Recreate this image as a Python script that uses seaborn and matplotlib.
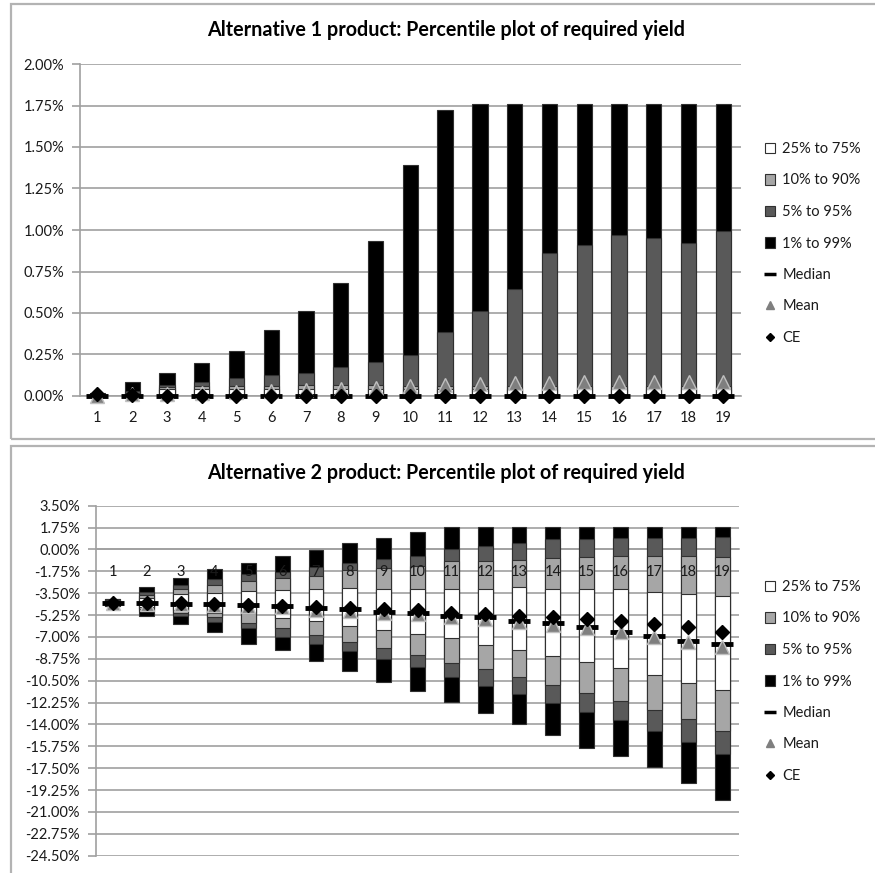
import numpy as np
import matplotlib
matplotlib.use("Agg")
import matplotlib.pyplot as plt
import seaborn as sns
from matplotlib.patches import Patch, Rectangle
from matplotlib.lines import Line2D
from matplotlib.ticker import FuncFormatter, MultipleLocator

periods = [str(i) for i in range(1, 20)]

# Alternative 1 product, required yield in %
a1_p1 = [0, 0, 0, 0, 0, 0, 0, 0, 0, 0, 0, 0, 0, 0, 0, 0, 0, 0, 0]
a1_p5 = [0, 0, 0, 0, 0, 0, 0, 0, 0, 0, 0, 0, 0, 0, 0, 0, 0, 0, 0]
a1_p10 = [0, 0, 0, 0, 0, 0, 0, 0, 0, 0, 0, 0, 0, 0, 0, 0, 0, 0, 0]
a1_p25 = [0, 0, 0, 0, 0, 0, 0, 0, 0, 0, 0, 0, 0, 0, 0, 0, 0, 0, 0]
a1_p75 = [0.004, 0.01, 0.04, 0.045, 0.045, 0.045, 0.045, 0.045, 0.045, 0.04, 0.04,
          0.04, 0.04, 0.04, 0.04, 0.04, 0.04, 0.04, 0.04]
a1_p90 = [0.008, 0.02, 0.055, 0.06, 0.06, 0.06, 0.065, 0.065, 0.065, 0.06, 0.06,
          0.06, 0.06, 0.06, 0.06, 0.06, 0.06, 0.06, 0.06]
a1_p95 = [0.012, 0.03, 0.068, 0.086, 0.11, 0.125, 0.14, 0.175, 0.203, 0.245, 0.384,
          0.513, 0.646, 0.859, 0.907, 0.969, 0.953, 0.923, 0.994]
a1_p99 = [0.02, 0.084, 0.139, 0.201, 0.274, 0.40, 0.511, 0.678, 0.935, 1.394, 1.72,
          1.758, 1.758, 1.758, 1.758, 1.758, 1.758, 1.758, 1.758]
a1_median = [0, 0, 0, 0, 0, 0, 0, 0, 0, 0, 0, 0, 0, 0, 0, 0, 0, 0, 0]
a1_mean = [0.0, 0.01, 0.015, 0.02, 0.025, 0.03, 0.035, 0.045, 0.05, 0.06, 0.065,
           0.07, 0.08, 0.08, 0.085, 0.085, 0.085, 0.085, 0.085]
a1_ce = [0.015, 0.008, 0, 0, 0, 0, 0, 0, 0, 0, 0, 0, 0, 0, 0, 0, 0, 0, 0]

# Alternative 2 product, required yield in %
a2_p1 = [-4.55, -5.33, -5.97, -6.58, -7.57, -8.05, -8.90, -9.73, -10.58, -11.30, -12.24,
         -13.06, -14.00, -14.85, -15.86, -16.53, -17.44, -18.72, -20.05]
a2_p5 = [-4.50, -4.90, -5.33, -5.78, -6.31, -6.98, -7.57, -8.10, -8.80, -9.44, -10.24,
         -10.93, -11.57, -12.26, -13.01, -13.65, -14.50, -15.44, -16.37]
a2_p10 = [-4.45, -4.80, -5.06, -5.38, -5.86, -6.31, -6.87, -7.41, -7.92, -8.45, -9.12,
          -9.60, -10.24, -10.88, -11.46, -12.10, -12.85, -13.60, -14.50]
a2_p25 = [-4.35, -4.63, -4.85, -5.06, -5.11, -5.52, -5.70, -6.13, -6.45, -6.77, -7.12,
          -7.65, -8.05, -8.53, -8.98, -9.52, -10.05, -10.66, -11.25]
a2_p75 = [-4.15, -3.92, -3.57, -3.52, -3.33, -3.25, -3.19, -3.11, -3.14, -3.14, -3.14,
          -3.14, -3.03, -3.14, -3.14, -3.19, -3.38, -3.57, -3.73]
a2_p90 = [-4.05, -3.65, -3.17, -2.85, -2.50, -2.31, -2.13, -1.65, -1.51, -1.33, -0.93,
          -0.93, -0.85, -0.71, -0.63, -0.53, -0.53, -0.53, -0.63]
a2_p95 = [-4.00, -3.38, -2.85, -2.39, -1.97, -1.78, -1.38, -1.06, -0.77, -0.53, 0.0,
          0.27, 0.485, 0.80, 0.80, 0.885, 0.885, 0.885, 1.02]
a2_p99 = [-3.95, -2.98, -2.26, -1.59, -1.11, -0.50, -0.05, 0.485, 0.885, 1.42, 1.80,
          1.80, 1.80, 1.80, 1.80, 1.80, 1.80, 1.80, 1.80]
a2_median = [-4.26, -4.30, -4.35, -4.40, -4.45, -4.55, -4.66, -4.80, -4.98, -5.11, -5.30,
             -5.44, -5.70, -5.91, -6.23, -6.58, -6.90, -7.30, -7.60]
a2_mean = [-4.30, -4.35, -4.40, -4.45, -4.50, -4.60, -4.85, -4.90, -5.06, -5.17, -5.38,
           -5.60, -5.78, -6.05, -6.31, -6.58, -6.98, -7.38, -7.78]
a2_ce = [-4.26, -4.26, -4.31, -4.39, -4.45, -4.53, -4.58, -4.66, -4.77, -4.85, -5.06,
         -5.17, -5.30, -5.44, -5.60, -5.73, -6.00, -6.18, -6.58]

band_colors = ['#000000', '#595959', '#a6a6a6', '#ffffff']
legend_labels = ['25% to 75%', '10% to 90%', '5% to 95%', '1% to 99%', 'Median', 'Mean', 'CE']

sns.set_style("white")
plt.rcParams['font.family'] = ['Lato', 'DejaVu Sans']
plt.rcParams['axes.unicode_minus'] = False

W, H = 875, 873
fig = plt.figure(figsize=(W / 100, H / 100), dpi=100)
GRID = '#a0a0a0'
TXT = '#1a1a1a'


def px_rect(x0, y0, x1, y1):
    return [x0 / W, 1 - y1 / H, (x1 - x0) / W, (y1 - y0) / H]


def draw(ax, p1, p5, p10, p25, p75, p90, p95, p99, med, mean, ce, ylo, yhi, step):
    layers = [(p1, p99), (p5, p95), (p10, p90), (p25, p75)]
    for (lo, hi), col in zip(layers, band_colors):
        lo = np.array(lo, dtype=float)
        hi = np.array(hi, dtype=float)
        sns.barplot(x=periods, y=hi - lo, bottom=lo, order=periods, color=col,
                    saturation=1, width=0.44, edgecolor='#303030', linewidth=0.8,
                    errorbar=None, ax=ax, zorder=2)
    pos = np.arange(len(periods))
    ax.plot(pos, med, ls='none', marker='_', ms=16, mew=3.5, color='black',
            zorder=4, clip_on=False)
    ax.plot(pos, mean, ls='none', marker='^', ms=10, mfc='#7f7f7f', mec='#c0c0c0',
            mew=1, zorder=5, clip_on=False)
    ax.plot(pos, ce, ls='none', marker='D', ms=7, color='black', zorder=6, clip_on=False)

    ax.set_xlim(-0.5, 18.5)
    ax.set_ylim(ylo, yhi)
    ax.yaxis.set_major_locator(MultipleLocator(step))
    ax.yaxis.set_major_formatter(FuncFormatter(lambda v, p: f'{v:.2f}%'))
    ax.grid(axis='y', color=GRID, lw=1.2)
    ax.grid(axis='x', visible=False)
    ax.set_axisbelow(True)
    ax.xaxis.set_zorder(3)
    for s in ['top', 'right']:
        ax.spines[s].set_visible(False)
    for s in ['left', 'bottom']:
        ax.spines[s].set_color(GRID)
        ax.spines[s].set_linewidth(1.2)
    ax.spines['bottom'].set_zorder(1)
    ax.set_xticks(pos)
    ax.set_xticks(np.arange(-0.5, 19, 1), minor=True)
    ax.tick_params(axis='x', which='major', length=0, pad=11, labelsize=10.5, labelcolor=TXT)
    ax.tick_params(axis='x', which='minor', length=5, color=GRID, width=1.2, direction='out')
    ax.tick_params(axis='y', length=5.5, color=GRID, width=1.2, pad=6, labelsize=10.5,
                   labelcolor=TXT, left=True)
    ax.set_xlabel('')
    ax.set_ylabel('')


def add_legend(top_px):
    handles = [Patch(facecolor=c, edgecolor='#303030', lw=0.8) for c in band_colors[::-1]]
    handles += [Line2D([], [], ls='none', marker='_', ms=8, mew=2.5, color='black'),
                Line2D([], [], ls='none', marker='^', ms=6, mfc='#7f7f7f', mec='#7f7f7f'),
                Line2D([], [], ls='none', marker='D', ms=4.5, color='black')]
    fig.legend(handles, legend_labels, loc='upper left', bbox_to_anchor=(765 / W, 1 - top_px / H),
               frameon=False, fontsize=10.5, handlelength=0.7, handleheight=0.7,
               handletextpad=0.5, labelspacing=1.2, borderpad=0, borderaxespad=0,
               labelcolor=TXT)


# panel frames
fig.patches.append(Rectangle((11 / W, 1 - 439 / H), 1, (439 - 4) / H, transform=fig.transFigure,
                             fill=False, edgecolor='#b3b3b3', lw=1.6))
fig.patches.append(Rectangle((11 / W, -0.1), 1, 0.1 + (H - 446) / H, transform=fig.transFigure,
                             fill=False, edgecolor='#b3b3b3', lw=1.6))

ax1 = fig.add_axes(px_rect(80, 64, 740.7, 396))
draw(ax1, a1_p1, a1_p5, a1_p10, a1_p25, a1_p75, a1_p90, a1_p95, a1_p99,
     a1_median, a1_mean, a1_ce, 0, 2.0, 0.25)
fig.text(446 / W, 1 - 30 / H, 'Alternative 1 product: Percentile plot of required yield',
         ha='center', va='center', fontsize=14.2, fontweight='bold', color='black')
add_legend(142)

ax2 = fig.add_axes(px_rect(96, 505.7, 739, 855.7))
draw(ax2, a2_p1, a2_p5, a2_p10, a2_p25, a2_p75, a2_p90, a2_p95, a2_p99,
     a2_median, a2_mean, a2_ce, -24.5, 3.5, 1.75)
ax2.spines['bottom'].set_position(('data', 0))
fig.text(446 / W, 1 - 473 / H, 'Alternative 2 product: Percentile plot of required yield',
         ha='center', va='center', fontsize=14.2, fontweight='bold', color='black')
add_legend(580)

fig.savefig('out.png', dpi=100)
